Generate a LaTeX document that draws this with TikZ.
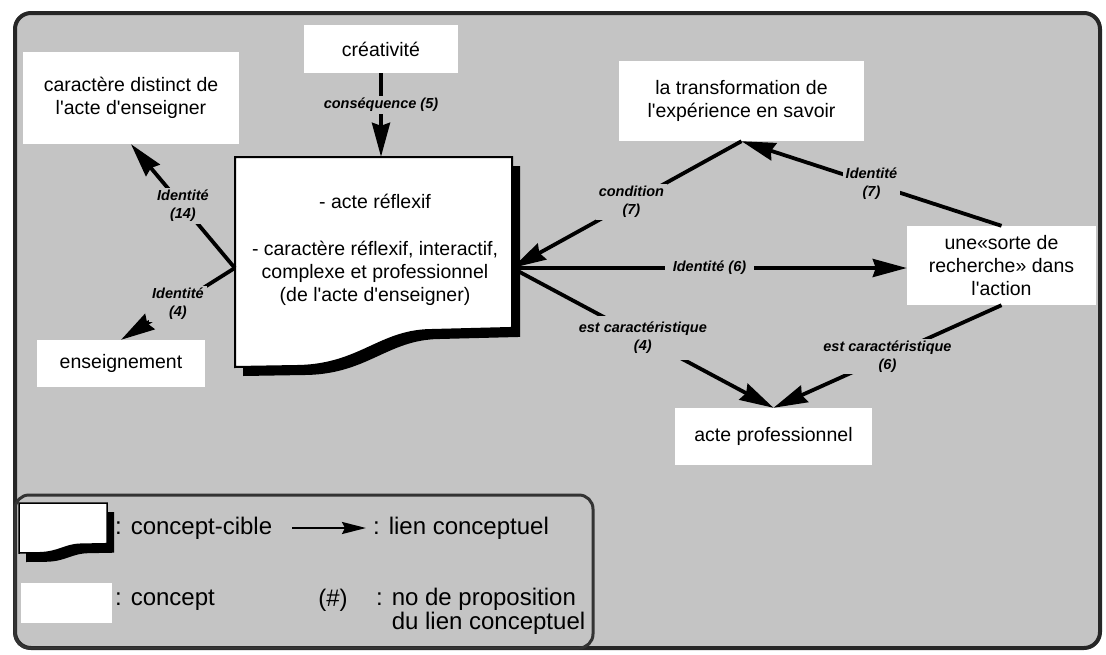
\documentclass[tikz,border=0pt]{standalone}
\usepackage{fontspec}
\setmainfont{Liberation Sans}
\usetikzlibrary{arrows.meta,calc}
\definecolor{bg}{RGB}{196,196,196}
\newcommand{\myq}{\textquotesingle}
\tikzset{
  tshape/.pic={\path[pic actions] (0,0) -- (1,0) -- (1,0.814) -- (0.704,0.824) .. controls (0.523,0.829) and (0.451,0.986) .. (0.235,0.995) -- (0,1) -- cycle;}
}
\begin{document}
\begin{tikzpicture}[x=1pt,y=-1pt,
  concept/.style={fill=white, inner sep=0pt, align=center, font=\fontsize{19.5}{23}\selectfont},
  link/.style={line width=3.8pt, -{Stealth[length=34pt,width=18pt,inset=3pt]}},
  lbl/.style={fill=bg, inner xsep=3pt, inner ysep=2pt, align=center, font=\fontsize{14.5}{18}\selectfont\bfseries\itshape},
  legtext/.style={anchor=west, inner sep=0pt, align=left, font=\fontsize{24}{24}\selectfont}
]
\useasboundingbox (0,0) rectangle (1106,654);
% outer frame
\draw[line width=4pt, black!85, fill=bg, rounded corners=16pt] (15,13) rectangle (1100,648);
% legend frame
\draw[line width=3pt, black!80, rounded corners=14pt] (15,495) rectangle (593,648);

% target concept shape
\begin{scope}[shift={(243,166)}, x=277pt, y=-210pt]
  \pic[fill=black] {tshape};
\end{scope}
\begin{scope}[shift={(235,157)}, x=277pt, y=-210pt]
  \pic[fill=white, draw=black, line width=2pt] {tshape};
\end{scope}
\node[minimum width=277pt, minimum height=222pt, inner sep=0pt] (T) at (373.5,268) {};
\node[concept, fill=none] (Tt) at (375,250) {- acte réflexif\\[24pt]- caractère réflexif, interactif,\\complexe et professionnel\\(de l\myq acte d\myq enseigner)};

% concepts
\node[concept, minimum width=216pt, minimum height=92pt] (K) at (131,98) {caractère distinct de\\l\myq acte d\myq enseigner};
\node[concept, minimum width=154pt, minimum height=48pt] (C) at (381,49) {créativité};
\node[concept, minimum width=245pt, minimum height=80pt] (X) at (741.5,101) {la transformation de\\l\myq expérience en savoir};
\node[concept, minimum width=189pt, minimum height=79pt] (U) at (1001.5,265.5) {une«sorte de\\recherche» dans\\l\myq action};
\node[concept, minimum width=168pt, minimum height=47pt] (E) at (121,363.5) {enseignement};
\node[concept, minimum width=197pt, minimum height=57pt] (P) at (773.5,436.5) {acte professionnel};

% links
\draw[link] (C) -- (C |- T.north) node[lbl, pos=0.38] {conséquence (5)};
\draw[link] (T.west) -- (K.south) node[lbl, pos=0.5] {Identité\\(14)};
\draw[link] (T.west) -- (E.north) node[lbl, pos=0.5] {Identité\\(4)};
\draw[link] (X.south) -- (T.east) node[lbl, pos=0.48] {condition\\(7)};
\draw[link] (U.north) -- (X.south) node[lbl, pos=0.5] {Identité\\(7)};
\draw[link] (T.east) -- (T.east -| U.west) node[lbl, pos=0.5, inner xsep=8pt] {Identité (6)};
\draw[link] (T.east) -- (P.north) node[lbl, pos=0.5, inner ysep=6pt] {est caractéristique\\(4)};
\draw[link] (U.south) -- (P.north) node[lbl, pos=0.5] {est caractéristique\\(6)};

% legend
\begin{scope}[shift={(26,512)}, x=88pt, y=-50pt]
  \pic[fill=black] {tshape};
\end{scope}
\begin{scope}[shift={(19,503)}, x=88pt, y=-50pt]
  \pic[fill=white, draw=black, line width=1.5pt] {tshape};
\end{scope}
\node[legtext] (l1) at (115,528) {: concept-cible};
\coordinate (la) at (292,528);
\coordinate (lb) at (366,528);
\draw[line width=2.2pt, -{Stealth[length=24pt,width=12pt,inset=3pt]}] (la) -- (lb);
\node[legtext] (l2) at (373,528) {: lien conceptuel};
\node[fill=white, minimum width=91pt, minimum height=40pt, inner sep=0pt] (l3) at (66.5,603) {};
\node[legtext] (l4) at (115,600) {: concept};
\node[inner sep=0pt, font=\fontsize{24}{24}\selectfont] (l5) at (333,600) {(\#)};
\node[legtext] (l6) at (376,611) {: no de proposition\\\hphantom{: }du lien conceptuel};
\end{tikzpicture}
\end{document}
